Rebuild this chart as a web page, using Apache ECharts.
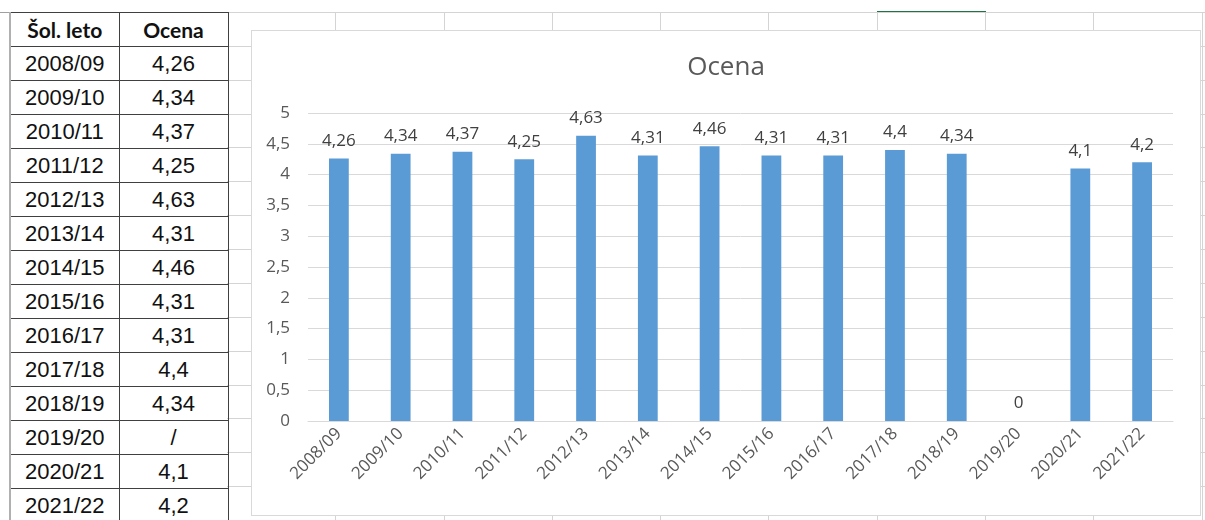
<!DOCTYPE html>
<html>
<head>
<meta charset="utf-8">
<script src="https://cdn.jsdelivr.net/npm/echarts@6/dist/echarts.min.js"></script>
<style>
  html, body { margin: 0; padding: 0; background: #fff; }
  body { width: 1205px; height: 520px; position: relative; overflow: hidden; }
  .gl { position: absolute; background: #d4d4d4; }
  #tbl { position: absolute; left: 9px; top: 12px; border-collapse: collapse; font-family: "Liberation Sans", Arial, sans-serif; font-size: 22px; color: #111; }
  #tbl td, #tbl th { border: 1px solid #404040; height: 32px; padding: 0; text-align: center; box-sizing: border-box; }
  #tbl th { font-family: Lato, "Open Sans", sans-serif; font-weight: bold; font-size: 21px; }
  #main { position: absolute; left: 251px; top: 30px; width: 950px; height: 486px; background: #fff; border: 1px solid #d9d9d9; box-sizing: border-box; }
</style>
</head>
<body>
<table id="tbl"></table>
<div id="main"></div>
<script>
// school years and grades (null = no grade that year)
const years = ['2008/09', '2009/10', '2010/11', '2011/12', '2012/13', '2013/14', '2014/15',
  '2015/16', '2016/17', '2017/18', '2018/19', '2019/20', '2020/21', '2021/22'];
const grades = [4.26, 4.34, 4.37, 4.25, 4.63, 4.31, 4.46, 4.31, 4.31, 4.4, 4.34, null, 4.1, 4.2];
const headers = ['Šol. leto', 'Ocena'];
const yTicks = { min: 0, max: 5, interval: 0.5 };

const comma = v => String(v).replace('.', ',');

// spreadsheet grid behind everything
function line(css, bg) {
  const d = document.createElement('div');
  d.className = 'gl';
  d.style.cssText = css;
  if (bg) d.style.background = bg;
  document.body.insertBefore(d, document.body.firstChild);
}
const colW = 108.3, rowH = 33.87;
for (let x = 227 + colW; x < 1210; x += colW) {
  line(`left:${Math.round(x)}px;top:12px;width:1px;height:510px;`);
}
for (let y = 12; y < 520; y += rowH) {
  line(`left:227px;top:${Math.round(y)}px;width:980px;height:1px;`);
}
line('left:877px;top:11px;width:109px;height:2px;', '#217346');
line('left:0;top:12px;width:1205px;height:1px;', '#a0a0a0');

// table
const tbl = document.getElementById('tbl');
let html = '<tr>' + headers.map(h => `<th style="width:109px;height:34px">${h}</th>`).join('') + '</tr>';
years.forEach((y, i) => {
  const g = grades[i] === null ? '/' : comma(grades[i]);
  html += `<tr><td style="height:34px">${y}</td><td>${g}</td></tr>`;
});
tbl.innerHTML = html;
tbl.style.borderLeft = '2px solid #b0b0b0';

// chart
const chart = echarts.init(document.getElementById('main'));
const font = '"Open Sans", sans-serif';
const option = {
  animation: false,
  textStyle: { fontFamily: font },
  title: {
    text: 'Ocena',
    left: 'center',
    top: 19,
    textStyle: { fontFamily: font, fontSize: 26, fontWeight: 'normal', color: '#595959' }
  },
  grid: { left: 56, right: 27, top: 82, bottom: 94, containLabel: false },
  xAxis: {
    type: 'category',
    data: years,
    axisLine: { lineStyle: { color: '#d9d9d9', width: 1 } },
    axisTick: { show: false },
    axisLabel: { rotate: 45, margin: 10, fontSize: 17, color: '#595959', interval: 0 }
  },
  yAxis: {
    type: 'value',
    min: yTicks.min,
    max: yTicks.max,
    interval: yTicks.interval,
    axisLine: { show: false },
    axisTick: { show: false },
    splitLine: { lineStyle: { color: '#d9d9d9' } },
    axisLabel: { fontSize: 17, color: '#595959', margin: 18, formatter: v => comma(v) }
  },
  series: [{
    type: 'bar',
    data: grades.map(g => g === null ? 0 : g),
    barWidth: '32%',
    itemStyle: { color: '#5b9bd5' },
    label: {
      show: true,
      position: 'top',
      distance: 9,
      fontSize: 17,
      color: '#404040',
      formatter: p => comma(p.value)
    }
  }]
};
chart.setOption(option);
</script>
</body>
</html>
